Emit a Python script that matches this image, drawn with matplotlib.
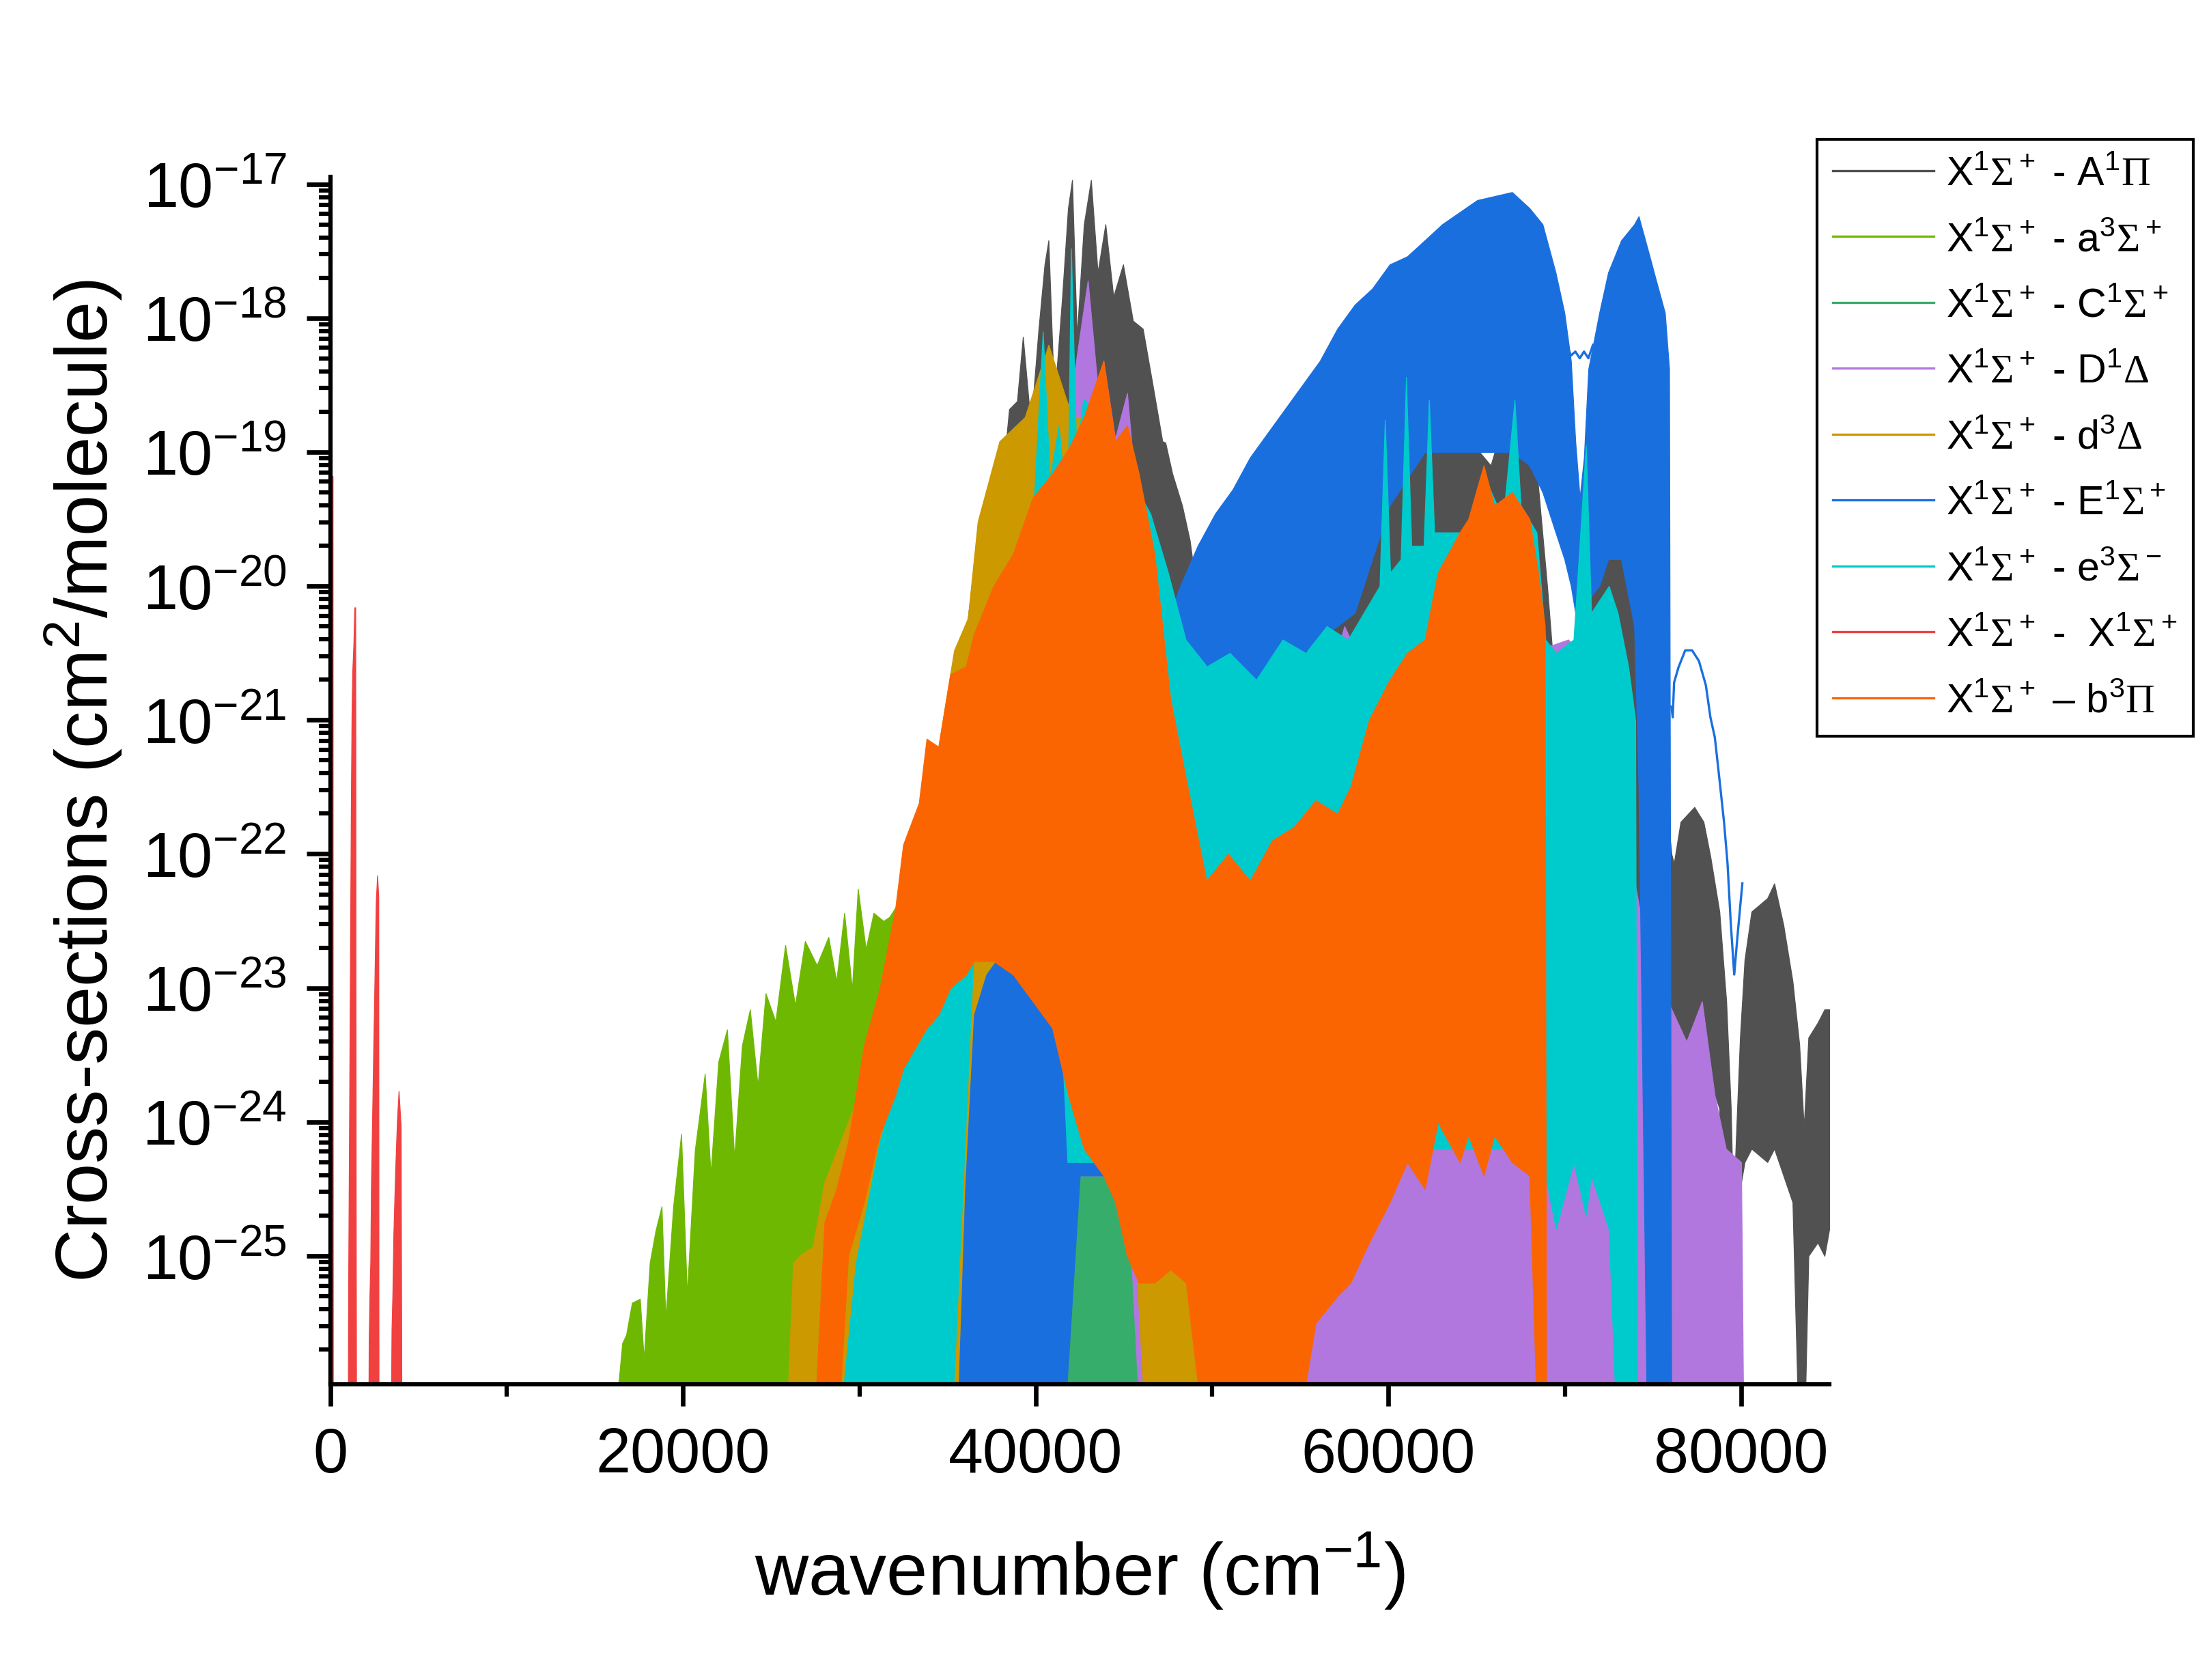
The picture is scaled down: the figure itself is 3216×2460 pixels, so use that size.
import numpy as np
import matplotlib
matplotlib.use("Agg")
import matplotlib.pyplot as plt
import matplotlib.ticker as mticker
from matplotlib.lines import Line2D

plt.rcParams["font.family"] = ["Liberation Sans", "DejaVu Sans"]
plt.rcParams["mathtext.fontset"] = "custom"
plt.rcParams["mathtext.rm"] = "Liberation Sans"
plt.rcParams["mathtext.it"] = "Liberation Sans:italic"
plt.rcParams["mathtext.bf"] = "Liberation Sans:bold"
plt.rcParams["mathtext.sf"] = "Liberation Serif"

# log10 of the cross-section; F means the trace reaches the bottom axis
F = -26.5

# --- X1S+ - A1P: upper / lower envelope ---
wn_A = [33500, 33810, 34260, 34590, 35040, 35480, 35930, 36260, 36710, 37160,
        37600, 38050, 38490, 38940, 39270, 39720, 40160, 40500, 40720, 41050,
        41500, 41830, 42060, 42330, 42730, 43130, 43510, 43950, 44400, 44950,
        45510, 46070, 46630, 47180, 47350, 47740, 48300, 48735, 49680, 52150,
        55870, 58340, 59500, 61070, 62500, 64530, 65800, 67010, 68250, 69000,
        69480, 70500, 71960, 73200, 74190, 75180, 76050, 76190, 76570, 77350,
        77870, 78260, 78770, 79160, 79420, 79550, 79940, 80200, 80590, 81490,
        81880, 82400, 82920, 83300, 83560, 83820, 84340, 84730, 85000]
top_A = [F, -22.23, -21.68, -21.2, -21.02, -20.78, -20.48, -20.12, -20.24, -19.52,
         -19.10, -19.28, -18.68, -18.62, -18.14, -18.80, -18.08, -17.60, -17.42, -18.62,
         -17.84, -17.18, -16.97, -18.14, -17.30, -16.97, -17.66, -17.30, -17.84, -17.60,
         -18.02, -18.08, -18.50, -18.92, -18.93, -19.16, -19.40, -19.66, -20.6, -20.5,
         -20.3, -20.1, -19.6, -19.0, -19.0, -18.9, -19.1, -18.56, -18.9, -20.0,
         -20.8, -21.0, -19.6, -19.5, -20.0, -20.8, -22.0, -22.07, -21.76, -21.65,
         -21.76, -22.02, -22.43, -23.1, -23.9, -24.66, -23.37, -22.79, -22.43, -22.33,
         -22.22, -22.53, -22.95, -23.42, -24.04, -23.37, -23.26, -23.16, -23.16]
bot_A = [F] * 57 + [-23.8, -23.6, -23.5, -23.6, -23.7, -23.9, F, F, F, -24.5,
                    -24.3, -24.2, -24.3, -24.2, -24.4, -24.6, F, F, -25.0, -24.9,
                    -25.0, -24.8]

# --- X1S+ - a3S+ ---
wn_a = [15950, 16550, 16770, 17100, 17550, 17770, 18110, 18440, 18780, 19000,
        19440, 19890, 20220, 20670, 21230, 21560, 22000, 22490, 22900, 23340,
        23790, 24230, 24680, 25240, 25790, 26350, 26910, 27580, 28240, 28690,
        29140, 29580, 29910, 30360, 30800, 31360, 31700, 33000, 36000, 40000,
        44000, 48200, 49500, 50500, 50800]
top_a = [F, -25.65, -25.59, -25.35, -25.32, -25.77, -25.05, -24.81, -24.63, -25.47,
         -24.63, -24.09, -25.29, -24.21, -23.64, -24.39, -23.55, -23.31, -24.27, -23.43,
         -23.16, -23.73, -23.04, -23.25, -22.68, -23.13, -22.65, -22.83, -22.62, -22.95,
         -22.44, -23.01, -22.26, -22.71, -22.44, -22.5, -22.47, -22.2, -21.6, -21.0,
         -21.0, -21.1, -21.8, -22.3, F]

# --- X1S+ - C1S+ ---
wn_C = [37000, 38500, 40000, 41500, 43000, 44500, 46000, 47500, 49000, 50500, 51500]
top_C = [F, -23.0, -22.0, -21.5, -21.5, -22.0, -22.5, -23.0, -23.5, -24.3, F]

# --- X1S+ - D1D ---
wn_D = [34500, 35500, 36500, 37400, 38000, 38900, 39800, 40600, 41400, 42200,
        42950, 43500, 43840, 44500, 45180, 46000, 47000, 48000, 50000, 52000,
        54000, 56000, 57500, 60000, 63000, 66000, 68000, 70200, 71500, 73000,
        74500, 75500, 76900, 77780, 78500, 79140, 80000, 80150]
top_D = [F, -24.0, -22.5, -20.6, -20.2, -19.2, -19.5, -18.9, -19.0, -18.4,
         -17.72, -18.5, -18.32, -18.9, -18.56, -19.8, -20.8, -21.2, -21.4, -21.2,
         -21.0, -21.0, -20.3, -21.0, -21.0, -21.0, -20.5, -20.4, -20.6, -21.5,
         -22.6, -23.0, -23.4, -23.1, -23.8, -24.2, -24.3, F]
bot_D = [F] * 9 + [-24.4] * 6 + [F] * 23

# --- X1S+ - d3D ---
wn_d = [25790, 26240, 26680, 27350, 28020, 28910, 29800, 31140, 32030, 32700,
        33370, 34260, 35370, 36150, 36710, 37940, 39380, 40720, 42060, 43170,
        44280, 45400, 46290, 47000, 48000, 48900, 49300]
top_d = [F, -25.05, -24.99, -24.93, -24.45, -24.15, -23.85, -23.49, -22.89, -22.17,
         -21.74, -21.38, -20.48, -20.24, -19.52, -18.92, -18.74, -18.2, -18.74, -18.74,
         -19.34, -20.24, -22.05, -24.6, -25.0, -25.2, F]
bot_d = [F] * 16 + [-24.3] * 6 + [F] * 5

# --- X1S+ - E1S+ (dense part, then the thin continuum line) ---
wn_E = [35500, 36000, 36500, 37200, 38300, 39000, 40000, 41000, 41500, 42500,
        43500, 44500, 45500, 46100, 46800, 47200, 48190, 49180, 50170, 51160,
        52150, 53140, 54130, 55120, 56110, 57100, 58090, 59080, 60070, 61060,
        62060, 63050, 64040, 65030, 66020, 67010, 68000, 68740, 69480, 69980,
        70350, 70600, 70850, 71090, 71340, 71960, 72460, 73200, 73940, 74190,
        74690, 75180, 75680, 75920, 76050]
top_E = [F, -24.5, -23.2, -22.9, -22.7, -22.8, -22.8, -23.0, -22.6, -22.5,
         -22.0, -21.5, -20.8, -20.4, -20.3, -20.36, -20.0, -19.70, -19.46, -19.28,
         -19.04, -18.86, -18.68, -18.50, -18.32, -18.08, -17.90, -17.78, -17.60, -17.54,
         -17.42, -17.30, -17.21, -17.12, -17.09, -17.06, -17.18, -17.30, -17.66, -17.96,
         -18.32, -18.92, -19.34, -19.04, -18.38, -17.96, -17.66, -17.42, -17.30, -17.24,
         -17.48, -17.72, -17.96, -18.38, F]
bot_E = [F, F, F, F, F, F, F, F, F, -24.4,
         -24.4, -24.4, -24.4, -24.4, -24.0, -21.2, -21.3, -21.2, -21.0, -20.9,
         -20.8, -20.7, -20.6, -20.5, -20.4, -20.3, -20.2, -19.8, -19.4, -19.2,
         -19.0, -19.0, -19.0, -19.0, -19.0, -19.0, -19.1, -19.3, -19.6, -19.8,
         -20.0, -20.2, -20.3, -20.2, -20.1, -20.0, -19.8, -19.8, -20.3, -21.5,
         F, F, F, F, F]
wn_E_gap = [70100, 70350, 70600, 70850, 71090, 71340, 71600]
val_E_gap = [-18.2, -18.28, -18.25, -18.3, -18.25, -18.3, -18.2]
wn_E_tail = [76050, 76120, 76200, 76440, 76830, 77220, 77610, 78000, 78260, 78510,
             78770, 79030, 79230, 79420, 79610, 79810, 80070]
val_E_tail = [-20.9, -20.98, -20.72, -20.61, -20.48, -20.48, -20.56, -20.74, -20.98, -21.13,
              -21.44, -21.76, -22.07, -22.53, -22.90, -22.59, -22.22]

# --- X1S+ - e3S- ---
wn_e = [28700, 29800, 31140, 32480, 33810, 35150, 36490, 37600, 38300, 39000,
        39800, 40400, 40800, 41300, 41800, 42000, 42300, 42700, 43600, 44500,
        45400, 46500, 47500, 48500, 49700, 51000, 52500, 54000, 55300, 56500,
        57700, 59500, 59800, 60100, 60700, 61000, 61300, 62000, 62300, 62600,
        64500, 65500, 66500, 67155, 67500, 68400, 68900, 69500, 70500, 71200,
        71500, 72500, 73000, 73600, 74000, 74100]
top_e = [F, -25.05, -24.15, -23.55, -23.13, -22.35, -22.29, -22.17, -21.5, -20.2,
         -19.6, -18.1, -19.2, -18.8, -19.5, -17.48, -19.0, -18.6, -18.74, -19.0,
         -19.2, -19.46, -19.9, -20.4, -20.6, -20.5, -20.7, -20.4, -20.5, -20.3,
         -20.4, -20.0, -18.76, -19.9, -19.8, -18.44, -19.7, -19.7, -18.61, -19.6,
         -19.6, -19.2, -19.5, -18.61, -19.4, -19.6, -20.4, -20.5, -20.4, -18.95,
         -20.2, -20.0, -20.2, -20.6, -21.0, F]
bot_e = [F, F, F, F, F, F, -22.7, -22.6, -22.8, -22.8,
         -22.8, -22.8, -22.8, -22.9, -24.3, -24.3, -24.3, -24.3, -24.3, -24.3,
         -24.3, -24.0, -23.8, -23.8, -23.8, -23.8, -23.8, -23.8, -23.8, -23.8,
         -24.0, -24.2, -24.2, -24.2, -24.2, -24.2, -24.2, -24.2, -24.2, -24.2,
         -24.2, -24.2, -24.2, -24.2, -24.2, -24.2, -24.4, -24.8, -24.3, -24.7,
         -24.4, -24.8, F, F, F, F]

# --- X1S+ - X1S+ (rotational and vibrational bands near zero) ---
wn_X = [0, 40, 125, 140,
        983, 1009, 1048, 1087, 1126, 1165, 1203, 1242, 1307, 1359, 1410, 1436, 1462,
        2148, 2174, 2213, 2265, 2304, 2381, 2433, 2485, 2537, 2576, 2653, 2718, 2731,
        3416, 3468, 3520, 3571, 3675, 3779, 3869, 3986, 4037]
top_X = [-19.42, -19.18, -19.18, F,
         F, -25.25, -24.33, -23.42, -22.49, -21.57, -20.94, -20.64, -20.43, -20.16,
         -20.16, -24.43, F,
         F, -25.64, -25.32, -25.04, -24.45, -23.87, -23.44, -23.07, -22.65, -22.35,
         -22.16, -22.32, F,
         F, -25.55, -25.27, -24.85, -24.36, -23.98, -23.77, -24.03, F]

# --- X1S+ - b3P ---
wn_b = [27350, 28020, 28700, 29360, 30250, 31140, 32030, 32480, 33370, 33810,
        34480, 35150, 36040, 36490, 37600, 38710, 39830, 40940, 41840, 42730,
        43840, 44510, 45180, 45840, 46730, 47630, 48520, 49680, 50910, 52150,
        53390, 54630, 55870, 57100, 57850, 58900, 60070, 61060, 62060, 62800,
        64040, 64530, 65400, 66000, 67010, 68000, 68490, 68870, 68950]
top_b = [F, -24.75, -24.5, -24.15, -23.43, -23.01, -22.41, -21.93, -21.62, -21.14,
         -21.2, -20.66, -20.6, -20.36, -20.0, -19.76, -19.34, -19.16, -18.98, -18.74,
         -18.32, -18.92, -18.80, -19.16, -19.76, -20.84, -21.44, -22.2, -22.0, -22.2,
         -21.9, -21.8, -21.6, -21.7, -21.5, -21.0, -20.7, -20.5, -20.4, -19.9,
         -19.6, -19.5, -19.1, -19.4, -19.3, -19.5, -19.9, -20.3, F]
bot_b = [F, F, F, -25.0, -24.6, -24.1, -23.8, -23.6, -23.4, -23.3,
         -23.2, -23.0, -22.9, -22.8, -22.8, -22.9, -23.1, -23.3, -23.8, -24.2,
         -24.4, -24.6, -25.0, -25.2, -25.2, -25.1, -25.2, F, F, F,
         F, F, -25.5, -25.3, -25.2, -24.9, -24.6, -24.3, -24.5, -24.0,
         -24.3, -24.1, -24.4, -24.1, -24.3, -24.4, F, F, F]

labels = [
    r"X$^1\mathsf{\Sigma}^+$ - A$^1\mathsf{\Pi}$",
    r"X$^1\mathsf{\Sigma}^+$ - a$^3\mathsf{\Sigma}^+$",
    r"X$^1\mathsf{\Sigma}^+$ - C$^1\mathsf{\Sigma}^+$",
    r"X$^1\mathsf{\Sigma}^+$ - D$^1\mathsf{\Delta}$",
    r"X$^1\mathsf{\Sigma}^+$ - d$^3\mathsf{\Delta}$",
    r"X$^1\mathsf{\Sigma}^+$ - E$^1\mathsf{\Sigma}^+$",
    r"X$^1\mathsf{\Sigma}^+$ - e$^3\mathsf{\Sigma}^-$",
    r"X$^1\mathsf{\Sigma}^+$ -  X$^1\mathsf{\Sigma}^+$",
    r"X$^1\mathsf{\Sigma}^+$ – b$^3\mathsf{\Pi}$",
]
colors = ["#515151", "#6FB802", "#37AD6B", "#B177DE", "#CC9900",
          "#1A6FDF", "#00CBCC", "#F14040", "#FB6501"]

bands = [
    (wn_A, top_A, bot_A),
    (wn_a, top_a, None),
    (wn_C, top_C, None),
    (wn_D, top_D, bot_D),
    (wn_d, top_d, bot_d),
    (wn_E, top_E, bot_E),
    (wn_e, top_e, bot_e),
    (wn_X, top_X, None),
    (wn_b, top_b, bot_b),
]

fig = plt.figure(figsize=(10.72, 8.2033), dpi=300)
ax = fig.add_axes([0.1505, 0.1759, 0.6825, 0.7184])

for i, ((wn, top, bot), col) in enumerate(zip(bands, colors)):
    wn = np.asarray(wn, float)
    top = np.asarray(top, float)
    bot = np.full_like(top, F) if bot is None else np.asarray(bot, float)
    z = 1 + i * 0.01
    ax.fill_between(wn, 10.0 ** bot, 10.0 ** top, color=col, lw=0.3,
                    edgecolor=col, zorder=z)
    if i == 5:
        ax.plot(wn_E_gap, 10.0 ** np.asarray(val_E_gap), color=col, lw=0.8, zorder=z)
        ax.plot(wn_E_tail, 10.0 ** np.asarray(val_E_tail), color=col, lw=0.8, zorder=z)

ax.set_yscale("log")
ax.set_xlim(0, 85000)
ax.set_ylim(1.1e-26, 1.13e-17)

ax.xaxis.set_major_locator(mticker.MultipleLocator(20000))
ax.xaxis.set_minor_locator(mticker.MultipleLocator(10000))
ax.yaxis.set_major_locator(mticker.FixedLocator(10.0 ** np.arange(-25, -16)))
ax.yaxis.set_minor_locator(mticker.LogLocator(base=10, subs=np.arange(2, 10), numticks=30))
ax.yaxis.set_minor_formatter(mticker.NullFormatter())
ax.yaxis.set_major_formatter(mticker.FuncFormatter(
    lambda v, p: r"10$^{%d}$" % int(round(np.log10(v)))))

for side in ["top", "right"]:
    ax.spines[side].set_visible(False)
for side in ["left", "bottom"]:
    ax.spines[side].set_linewidth(1.5)
    ax.spines[side].set_zorder(5)

ax.tick_params(axis="both", which="major", direction="out", width=1.6,
               labelsize=22, pad=7)
ax.tick_params(axis="x", which="major", length=7.7)
ax.tick_params(axis="y", which="major", length=8.4)
ax.tick_params(axis="both", which="minor", direction="out", width=1.5, length=4.2)

ax.set_xlabel("wavenumber (cm$^{-1}$)", fontsize=26, labelpad=16)
ax.set_ylabel("Cross-sections (cm$^2$/molecule)", fontsize=26, labelpad=6)

handles = [Line2D([0], [0], color=c, lw=0.8) for c in colors]
leg = fig.legend(handles, labels, loc="upper right",
                 bbox_to_anchor=(0.9988, 0.9167), bbox_transform=fig.transFigure,
                 fontsize=14.2, frameon=True, fancybox=False, framealpha=1,
                 edgecolor="black", borderaxespad=0, borderpad=0.4,
                 handlelength=2.5, handletextpad=0.3, labelspacing=0.70)
leg.get_frame().set_linewidth(1.0)

fig.savefig("out.png", dpi=300)
